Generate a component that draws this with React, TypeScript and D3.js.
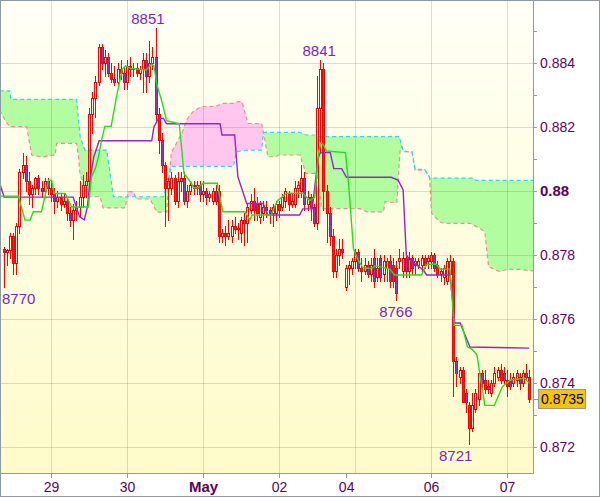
import React from "react";
import * as d3 from "d3";

// ---------- data (prices in pips, i.e. value * 10000) ----------
const opens = [
  8782, 8781, 8781.5, 8786, 8777.5, 8789, 8806, 8808, 8803, 8799, 8801, 8804, 8801, 8800, 8803, 8801, 8799, 8797, 8798, 8796,
  8797, 8793, 8791, 8794, 8795, 8798, 8802, 8803, 8824, 8829, 8834, 8845, 8840, 8842, 8837, 8835, 8834, 8838, 8837, 8834,
  8839, 8838, 8838.5, 8837, 8838, 8841, 8836, 8840, 8842, 8824, 8816, 8808, 8801, 8801, 8804, 8797, 8803, 8804, 8797, 8800,
  8802, 8801, 8802, 8799, 8800, 8798, 8797, 8800, 8800, 8786, 8787, 8786, 8786, 8789, 8788, 8787, 8791, 8790, 8794, 8797,
  8796, 8792, 8793, 8795, 8794, 8793, 8793, 8796, 8795, 8797, 8799, 8796, 8796, 8801, 8800, 8804, 8796, 8798, 8795, 8790,
  8826, 8838, 8800, 8793, 8786, 8775, 8780, 8782, 8770, 8776, 8776, 8778, 8781, 8776, 8775, 8777, 8774, 8779, 8773, 8779,
  8774, 8776, 8778, 8777, 8776, 8778, 8775, 8779, 8775, 8779, 8777, 8777, 8777, 8779, 8778, 8778, 8780, 8777, 8774, 8773,
  8772, 8774, 8778, 8747, 8742, 8744, 8737, 8733, 8726, 8732, 8735, 8743, 8741, 8739, 8737, 8740, 8742, 8744, 8743, 8741,
  8741, 8740, 8741, 8742, 8740, 8743, 8742,
];
const highs = [
  8782.5, 8782, 8787, 8787, 8790, 8807, 8812, 8811, 8806, 8802, 8804.5, 8805, 8803, 8804, 8804, 8803, 8801, 8800, 8799, 8799,
  8798, 8795, 8796, 8797, 8803, 8805, 8806, 8826, 8831, 8836, 8846, 8846, 8844, 8843, 8840, 8839, 8840, 8841, 8839, 8841,
  8842, 8840, 8840, 8839, 8843, 8843, 8847, 8845, 8851, 8826, 8818, 8809, 8804, 8806, 8805, 8806, 8806, 8806, 8802, 8803,
  8803, 8803, 8803, 8803, 8801, 8800, 8801, 8802, 8802, 8788, 8789, 8791, 8791, 8792, 8790, 8792, 8793, 8796, 8799, 8801,
  8798, 8797, 8797, 8797, 8795, 8796, 8797, 8797, 8799, 8801, 8800, 8799, 8803, 8803, 8808, 8806, 8800, 8799, 8796, 8836,
  8841, 8840, 8802, 8795, 8788, 8782, 8785, 8785, 8777, 8778, 8779, 8782, 8782, 8779, 8779, 8778, 8779, 8782, 8779, 8780,
  8780, 8779, 8780, 8779, 8778, 8782, 8781, 8781, 8781, 8780, 8779, 8779, 8780, 8780, 8780, 8781, 8780.5, 8778, 8776, 8777,
  8779, 8780, 8779, 8748, 8745, 8745, 8738, 8734, 8737, 8738, 8744, 8744, 8744, 8741, 8741, 8745, 8745, 8746, 8745, 8744,
  8743, 8743, 8744, 8743, 8744, 8746, 8744,
];
const lows = [
  8770, 8777, 8779, 8774, 8774, 8787, 8804, 8800, 8796, 8795, 8799, 8799, 8798, 8799, 8799, 8797, 8793, 8795, 8794, 8795,
  8791, 8789, 8785, 8791, 8792, 8795, 8798, 8800, 8818, 8823, 8833, 8838, 8836, 8836, 8834, 8833, 8833, 8835, 8832, 8832,
  8836, 8836, 8836, 8835, 8831, 8831, 8834, 8838, 8822, 8812, 8806, 8789, 8791, 8799, 8796, 8795, 8800, 8796, 8795, 8799,
  8799, 8799, 8797, 8797, 8796, 8797, 8796, 8796, 8784, 8784, 8783, 8785, 8784, 8787, 8785, 8784, 8783, 8784, 8793, 8791,
  8791, 8790, 8791, 8792, 8790, 8789, 8791, 8792, 8794, 8795, 8794, 8795, 8795, 8798, 8798, 8794, 8794, 8791, 8789, 8788,
  8812, 8794, 8784, 8783, 8773, 8773, 8777, 8779, 8769, 8771, 8774, 8776, 8775, 8772, 8774, 8773, 8772, 8770, 8772, 8772,
  8772, 8772, 8770, 8770, 8766, 8776, 8773, 8773, 8773, 8774, 8774, 8776, 8775, 8776, 8776, 8776, 8775, 8773, 8772, 8771,
  8771, 8772, 8736, 8739, 8740, 8734, 8731, 8721, 8725, 8731, 8733, 8738, 8737, 8737, 8736, 8739, 8741, 8740, 8740, 8736,
  8738, 8739, 8739, 8738, 8739, 8741, 8734,
];
const closes = [
  8781, 8781.5, 8786, 8777.5, 8789, 8806, 8808, 8803, 8799, 8801, 8804, 8801, 8800, 8803, 8801, 8799, 8797, 8798, 8796, 8797,
  8793, 8791, 8794, 8795, 8798, 8802, 8803, 8824, 8829, 8834, 8845, 8840, 8842, 8837, 8835, 8834, 8838, 8837, 8834, 8839,
  8838, 8838.5, 8837, 8838, 8841, 8836, 8840, 8842, 8824, 8816, 8808, 8801, 8803, 8804, 8797, 8803, 8804, 8797, 8800, 8802,
  8801, 8802, 8799, 8800, 8798, 8799, 8800, 8797, 8786, 8787, 8786, 8787, 8789, 8788, 8788.5, 8791, 8790, 8795, 8797, 8794,
  8793, 8796, 8795, 8794, 8793, 8795, 8796, 8794, 8798, 8800, 8796, 8797, 8801, 8802, 8804, 8796, 8798, 8795, 8790, 8826,
  8838, 8800, 8793, 8786, 8775, 8780, 8782, 8781, 8776, 8777, 8778, 8781, 8776, 8775, 8777, 8774, 8777, 8772, 8776, 8773,
  8778, 8778, 8772, 8772, 8768, 8779, 8779, 8775, 8779, 8776, 8778, 8778, 8779, 8777, 8779, 8780, 8776, 8774, 8775, 8776,
  8778, 8778, 8747, 8743, 8744, 8734, 8734, 8726, 8733, 8737, 8743, 8740, 8738, 8738, 8740, 8743, 8744, 8741, 8741, 8739,
  8739, 8742, 8743, 8740, 8743, 8742, 8735,
];

// Ichimoku lines as [bar, price-in-pips] breakpoints
const tenkan: [number, number][] = [
  [-1.2, 8798.4], [4.7, 8798.4], [6.8, 8790.9], [8.4, 8790.9], [9.4, 8793.5], [12, 8793.5], [14.2, 8803.4], [15.2, 8803.4],
  [16, 8799.2], [19.5, 8799.2], [21.5, 8795], [26.8, 8795], [27.8, 8804.5], [29, 8807], [30, 8810.8], [31, 8816], [32, 8820.2],
  [34, 8820.2], [35.7, 8829.6], [37.5, 8838], [38.5, 8839.1], [40, 8838.3], [45, 8837.8], [46.8, 8839.6], [47.5, 8839],
  [48.5, 8833], [50, 8828], [51.5, 8822], [55.5, 8821], [57, 8805.5], [59.4, 8802.4], [60, 8801], [61.5, 8801], [63, 8802.4],
  [67.5, 8802.4], [68.5, 8797], [69.3, 8793.5], [76.3, 8793.5], [77.8, 8790.9], [78.5, 8792.5], [84.5, 8792.5], [86.5, 8797],
  [89.5, 8799.3], [94.5, 8799.3], [96.7, 8797], [98.3, 8798], [99.5, 8812], [100.2, 8815], [101, 8814.5], [102, 8812.5],
  [108, 8812], [109, 8802], [110.5, 8782], [112, 8778.4], [113.5, 8776], [116, 8775.8], [117.5, 8776.6], [122, 8775.6],
  [123.5, 8773.75], [132, 8773.75], [133.5, 8777], [136.5, 8777.2], [138, 8775.6], [141, 8775.6], [142.3, 8758], [144.8, 8758],
  [146.5, 8751.3], [148, 8750.5], [149.5, 8748.8], [152, 8733], [155, 8733], [157.5, 8738.8], [160, 8740.9], [164.5, 8741.5],
  [166, 8740],
];
const kijun: [number, number][] = [
  [-1.2, 8802.4], [0.2, 8798.1], [22, 8798.1], [23, 8795], [24, 8792], [25.5, 8791], [26.5, 8795], [27.3, 8803.4],
  [28.5, 8810.6], [30.2, 8815.7], [46.8, 8815.7], [47.5, 8820], [48.9, 8822.7], [50.5, 8822.7], [51.5, 8821], [68.4, 8821],
  [69, 8817.5], [73, 8817.5], [74, 8804.5], [76.8, 8796.1], [82, 8796.1], [83.5, 8792.5], [93.5, 8792.5], [94.5, 8794.4],
  [97.5, 8794.4], [99.3, 8810], [100, 8812], [103.2, 8812], [104.3, 8807], [106.8, 8807], [108.3, 8804.3], [122.4, 8804.3],
  [124.6, 8803.4], [126.2, 8800.3], [127.2, 8780], [128.4, 8778.4], [132.6, 8775.3], [133.6, 8773.75], [141, 8773.75],
  [142.5, 8758.75], [144.2, 8758.75], [147.3, 8751.25], [166, 8750.9],
];
const spanA: [number, number][] = [
  [-1.2, 8831.3], [2.0, 8831.3], [2.3, 8828.65], [23.1, 8828.65], [24.2, 8817], [25.7, 8812.8], [32.6, 8812.8], [34.7, 8798.2],
  [50.5, 8798.2], [51.3, 8801.3], [53.1, 8807.7], [72.6, 8807.7], [73.6, 8812.3], [77.2, 8812.8], [81.5, 8812.8], [82.1, 8818.3],
  [93.6, 8818.3], [95.5, 8817.5], [98.5, 8817.5], [99.3, 8817], [125, 8817], [126.2, 8812.3], [129, 8812.3], [130, 8806.8],
  [133, 8806.8], [134.7, 8804], [148.4, 8804], [149.2, 8803.3], [169, 8803.3],
];
const spanB: [number, number][] = [
  [-1.2, 8825.3], [0.5, 8822], [2.0, 8820.1], [7.3, 8820.1], [8.9, 8811.25], [12, 8810.6], [16.3, 8811.25], [16.8, 8814.9],
  [23.1, 8814.9], [23.6, 8811.5], [24.2, 8805], [26.8, 8798.2], [30.5, 8798.2], [31.5, 8794.7], [38.4, 8794.7], [39.4, 8799.8],
  [41, 8799.8], [42, 8797.5], [46.3, 8797.5], [48.4, 8793.4], [51.5, 8793.4], [52.3, 8804.5], [53, 8812], [56.3, 8818],
  [58, 8822.5], [59.8, 8824.8], [62.5, 8826.4], [67, 8826.4], [69.3, 8827.4], [72.5, 8827.4], [74, 8827.9], [75.3, 8827.9],
  [77.2, 8821.1], [81.5, 8821.1], [82.1, 8818.3], [83.5, 8810.7], [86.2, 8810.7], [86.8, 8811.25], [93.6, 8811.25],
  [95.5, 8805.5], [99, 8805.5], [100.5, 8794.5], [112.6, 8794.5], [114.8, 8793.5], [120, 8793.5], [120.5, 8796.7],
  [124.2, 8796.2], [125.2, 8812.3], [125.7, 8813.9], [126.5, 8812.5], [129, 8812], [130, 8806.5], [133, 8806.5],
  [134.5, 8804.5], [135.2, 8793], [137.8, 8790.4], [139, 8789.9], [147.3, 8789.9], [150.5, 8788.3], [152, 8787.2],
  [152.6, 8781.6], [153.2, 8776.3], [156.8, 8774.8], [158.9, 8775.5], [163.1, 8775.5], [169, 8774.8],
];

const yTickValues = [0.872, 0.874, 0.876, 0.878, 0.88, 0.882, 0.884];
const yTickLabels = ["0.872", "0.874", "0.876", "0.878", "0.88", "0.882", "0.884"];
const yMinorValues = [0.873, 0.875, 0.877, 0.879, 0.881, 0.883, 0.885];
const dateLabels = ["29", "30", "May", "02", "04", "06", "07"];
const dateBars = [15, 39, 63, 87, 108.2, 135, 159];
const gridBars = [15, 39, 63, 87, 111, 135, 159];
const extremeTexts = ["8851", "8841", "8770", "8766", "8721"];
const extremeValues = [8851, 8841, 8770, 8766, 8721];
const extremeBars = [45.6, 99.7, 4.8, 123.9, 142.8];
const extremeKinds = ["high", "high", "low", "low", "low"];
const lastPrice = 0.8735;

// ---------- layout ----------
const W = 600;
const H = 497;
const plotRight = 533;
const plotBottom = 473;
const FONT = "'Liberation Sans', Arial, sans-serif";

export default function App() {
  const x = d3.scaleLinear().domain([0, 24]).range([3.5, 79.5]);
  const y = d3.scaleLinear().domain([0.872, 0.884]).range([447, 63]);
  const py = (p: number) => y(p / 1e4);

  const line = d3
    .line<[number, number]>()
    .x((d) => x(d[0]))
    .y((d) => py(d[1]));

  const areaBelowA = d3
    .area<[number, number]>()
    .x((d) => x(d[0]))
    .y0(plotBottom)
    .y1((d) => py(d[1]))(spanA) as string;
  const areaAboveA = d3
    .area<[number, number]>()
    .x((d) => x(d[0]))
    .y0(0)
    .y1((d) => py(d[1]))(spanA) as string;
  const areaAboveB = d3
    .area<[number, number]>()
    .x((d) => x(d[0]))
    .y0(0)
    .y1((d) => py(d[1]))(spanB) as string;
  const areaBelowB = d3
    .area<[number, number]>()
    .x((d) => x(d[0]))
    .y0(plotBottom)
    .y1((d) => py(d[1]))(spanB) as string;

  const frame = "#8d9ba7";
  const gridStroke = "rgb(100,100,80)";
  const red = "#ff0000";

  return (
    <svg
      width={W}
      height={H}
      style={{ position: "fixed", left: 0, top: 0, display: "block", background: "#ffffff" }}
      fontFamily={FONT}
    >
      <defs>
        <linearGradient id="bg" x1="0" y1="0" x2="0" y2="1">
          <stop offset="0%" stopColor="#fffff6" />
          <stop offset="100%" stopColor="#fefbc9" />
        </linearGradient>
        <clipPath id="plot">
          <rect x={1} y={1} width={plotRight - 1} height={plotBottom - 1} />
        </clipPath>
        <clipPath id="belowA">
          <path d={areaBelowA} />
        </clipPath>
        <clipPath id="aboveA">
          <path d={areaAboveA} />
        </clipPath>
      </defs>

      <rect x={0} y={0} width={W} height={H} fill="#ffffff" />
      <rect x={1} y={1} width={plotRight - 1} height={plotBottom - 1} fill="url(#bg)" />

      <g clipPath="url(#plot)">
        {/* cloud fills */}
        <g clipPath="url(#belowA)">
          <path d={areaAboveB} fill="#b2fda0" />
        </g>
        <g clipPath="url(#aboveA)">
          <path d={areaBelowB} fill="#ffc6ee" />
        </g>

        {/* grid */}
        {yTickValues.map((v) => (
          <line
            key={"hg" + v}
            x1={1}
            x2={plotRight}
            y1={Math.round(y(v)) + 0.5}
            y2={Math.round(y(v)) + 0.5}
            stroke={gridStroke}
            strokeOpacity={0.22}
          />
        ))}
        {gridBars.map((b) => (
          <line
            key={"vg" + b}
            x1={Math.floor(x(b)) + 0.5}
            x2={Math.floor(x(b)) + 0.5}
            y1={1}
            y2={plotBottom}
            stroke={gridStroke}
            strokeOpacity={0.22}
          />
        ))}

        {/* cloud borders */}
        <path d={line(spanB) as string} fill="none" stroke="#f58a8a" strokeWidth={1.2} strokeDasharray="4,3" />
        <path d={line(spanA) as string} fill="none" stroke="#22dcef" strokeWidth={1.2} strokeDasharray="4,3" />

        {/* candles */}
        {opens.map((o, i) => {
          const c = closes[i];
          const cx = Math.round(x(i));
          const yh = Math.round(py(highs[i]));
          const yl = Math.round(py(lows[i]));
          const top = Math.round(py(Math.max(o, c)));
          const bot = Math.round(py(Math.min(o, c)));
          const bear = c < o;
          return (
            <g key={"c" + i}>
              {yh < top && <line x1={cx + 0.5} x2={cx + 0.5} y1={yh} y2={top} stroke={red} />}
              {yl > bot && <line x1={cx + 0.5} x2={cx + 0.5} y1={bot + 1} y2={yl + 1} stroke={red} />}
              <rect
                x={cx - 0.5}
                y={top + 0.5}
                width={2}
                height={Math.max(bot - top, 0)}
                fill={bear ? "#8142c4" : "none"}
                stroke={red}
              />
            </g>
          );
        })}

        {/* tenkan / kijun */}
        <path d={line(kijun) as string} fill="none" stroke="#9a22cc" strokeWidth={1.4} />
        <path d={line(tenkan) as string} fill="none" stroke="#1fe01f" strokeWidth={1.4} />

        {/* extreme labels */}
        {extremeTexts.map((t, k) => {
          const yy = py(extremeValues[k]);
          return (
            <text
              key={"ex" + k}
              x={x(extremeBars[k])}
              y={extremeKinds[k] === "high" ? yy - 4 : yy + 17}
              textAnchor="middle"
              fontSize={15}
              fill="#7d1fcc"
            >
              {t}
            </text>
          );
        })}
      </g>

      {/* axes */}
      <line x1={plotRight + 0.5} x2={plotRight + 0.5} y1={0} y2={plotBottom + 1} stroke={frame} />
      <line x1={0} x2={plotRight + 1} y1={plotBottom + 0.5} y2={plotBottom + 0.5} stroke={frame} />

      {yMinorValues.concat(yTickValues).map((v) => (
        <line
          key={"yt" + v}
          x1={plotRight}
          x2={plotRight + 4}
          y1={Math.round(y(v)) + 0.5}
          y2={Math.round(y(v)) + 0.5}
          stroke={frame}
        />
      ))}
      {yTickValues.map((v, k) => (
        <text
          key={"yl" + v}
          x={540}
          y={y(v) + 5}
          fontSize={yTickLabels[k] === "0.88" ? 15 : 14}
          fontWeight={yTickLabels[k] === "0.88" ? "bold" : "normal"}
          fill="#5e0060"
        >
          {yTickLabels[k]}
        </text>
      ))}

      {dateBars.map((b, k) => (
        <g key={"d" + k}>
          <line
            x1={Math.floor(x(b)) + 0.5}
            x2={Math.floor(x(b)) + 0.5}
            y1={plotBottom}
            y2={plotBottom + 5}
            stroke={frame}
          />
          <text
            x={x(b) + 0.5}
            y={492}
            textAnchor="middle"
            fontSize={dateLabels[k] === "May" ? 15 : 14}
            fontWeight={dateLabels[k] === "May" ? "bold" : "normal"}
            fill="#5e0060"
          >
            {dateLabels[k]}
          </text>
        </g>
      ))}

      {/* last price badge */}
      <line
        x1={plotRight}
        x2={plotRight + 5}
        y1={Math.round(y(lastPrice)) + 0.5}
        y2={Math.round(y(lastPrice)) + 0.5}
        stroke={frame}
      />
      <rect
        x={538.5}
        y={Math.round(y(lastPrice)) - 9.5}
        width={47}
        height={19}
        fill="#f6c400"
        stroke={frame}
      />
      <text x={562.5} y={y(lastPrice) + 5} textAnchor="middle" fontSize={14} fill="#000000">
        {lastPrice.toFixed(4)}
      </text>

      {/* outer frame */}
      <rect x={0.5} y={0.5} width={W - 1} height={H - 1} fill="none" stroke={frame} />
    </svg>
  );
}
